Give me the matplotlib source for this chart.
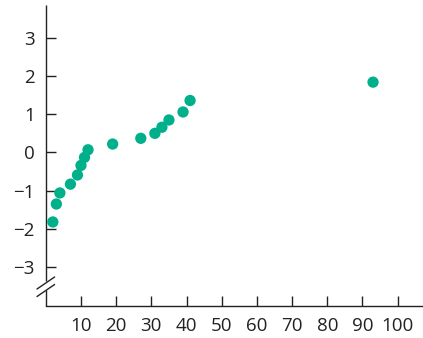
import matplotlib
matplotlib.use('Agg')
import matplotlib.pyplot as plt

x_vals = [2, 3, 4, 7, 9, 10, 11, 12, 19, 27, 31, 33, 35, 39, 41, 93]
y_vals = [-1.82, -1.35, -1.06, -0.83, -0.59, -0.34, -0.13, 0.07,
          0.22, 0.37, 0.50, 0.66, 0.85, 1.06, 1.36, 1.84]
x_ticks = [10, 20, 30, 40, 50, 60, 70, 80, 90, 100]
y_ticks = [-3, -2, -1, 0, 1, 2, 3]

plt.rcParams['font.family'] = ['Open Sans', 'DejaVu Sans']

W, H = 423, 338
fig = plt.figure(figsize=(W / 100, H / 100), dpi=100)
ax = fig.add_axes([45.8 / W, 1 - 306 / H, 1 - 45.8 / W, (306 - 5) / H])

ax.scatter(x_vals, y_vals, s=66, color='#00b08a', edgecolors='none', zorder=3)

ax.set_xlim(0, 107.2)
ax.set_ylim(-4.02, 3.86)
ax.set_xticks(x_ticks)
ax.set_yticks(y_ticks)
ax.tick_params(direction='in', length=7.5, width=1.0, color='#222222',
               labelsize=13.5, pad=8, labelcolor='#222222')

for side in ['top', 'right', 'left']:
    ax.spines[side].set_visible(False)
ax.spines['bottom'].set_color('#222222')
ax.spines['bottom'].set_linewidth(1.0)

# left axis with a break near the bottom
def frac(py):
    return (306 - py) / 301

tr = ax.transAxes
kw = dict(transform=tr, color='#222222', lw=1.0, clip_on=False, solid_capstyle='butt')
ax.plot([0, 0], [frac(281), 1], **kw)
ax.plot([0, 0], [0, frac(290)], **kw)
dx = 9.2 / (W - 45.8)
for cy in (283, 290.5):
    ax.plot([-dx, dx], [frac(cy + 6.3), frac(cy - 6.3)], **kw)

fig.savefig('out.png', dpi=100)
